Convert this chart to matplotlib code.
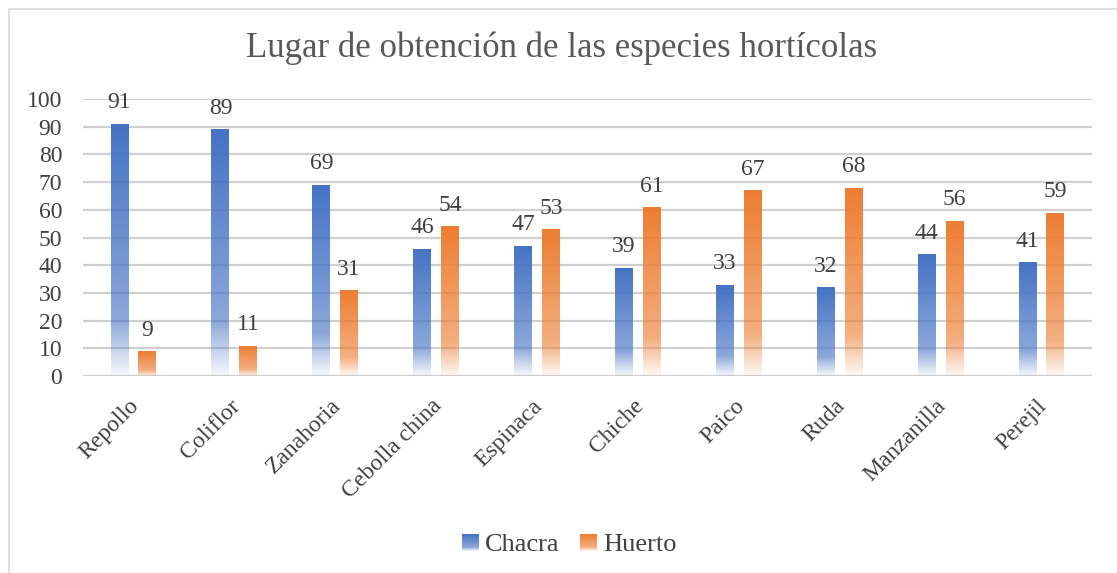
import numpy as np
import matplotlib
matplotlib.use("Agg")
import matplotlib.pyplot as plt
from matplotlib.colors import to_rgb
from matplotlib.patches import Rectangle
from matplotlib.legend_handler import HandlerBase
from matplotlib.transforms import ScaledTranslation

categories = ["Repollo", "Coliflor", "Zanahoria", "Cebolla china", "Espinaca",
              "Chiche", "Paico", "Ruda", "Manzanilla", "Perejil"]
chacra = [91, 89, 69, 46, 47, 39, 33, 32, 44, 41]
huerto = [9, 11, 31, 54, 53, 61, 67, 68, 56, 59]
series_names = ["Chacra", "Huerto"]
yticks = [0, 10, 20, 30, 40, 50, 60, 70, 80, 90, 100]

BLUE = "#4472C4"
ORANGE = "#ED7D31"
TXT = "#404040"
FONT = "Liberation Serif"

plt.rcParams["font.family"] = [FONT, "DejaVu Serif"]

fig = plt.figure(figsize=(11.17, 5.73), dpi=100)
ax = fig.add_axes([83/1117, 1 - 376/573, (1092-83)/1117, (376-99)/573])

def grad_image(color):
    r, g, b = to_rgb(color)
    t = np.linspace(0, 1, 256)
    alpha = np.interp(t, [0, 0.78, 0.9, 1.0], [1.0, 0.62, 0.3, 0.05])
    img = np.zeros((256, 1, 4))
    img[:, 0, 0] = r
    img[:, 0, 1] = g
    img[:, 0, 2] = b
    img[:, 0, 3] = alpha
    return img

x = np.arange(len(categories))
w = 0.178
off = 0.138
for vals, col, sgn in [(chacra, BLUE, -1), (huerto, ORANGE, 1)]:
    bars = ax.bar(x + sgn * off, vals, width=w, color="none", edgecolor="none", zorder=3)
    img = grad_image(col)
    for b, v in zip(bars, vals):
        x0 = b.get_x()
        im = ax.imshow(img, extent=[x0, x0 + b.get_width(), 0, b.get_height()],
                       aspect="auto", origin="upper", zorder=3, interpolation="bilinear")
        im.set_clip_path(b)
        ax.text(b.get_x() + b.get_width()/2, v + 3.8, f"{v}", ha="center", va="bottom",
                fontsize=17, color=TXT, zorder=5)

ax.set_xlim(-0.5, len(categories) - 0.5)
ax.set_ylim(0, 100)
ax.set_yticks(yticks)
ax.set_yticklabels([str(t) for t in yticks], fontsize=17, color=TXT)
ax.set_xticks(x)
ax.tick_params(axis="both", length=0)
ax.tick_params(axis="y", pad=15)
ax.tick_params(axis="x", pad=14)
ax.set_xticklabels(categories, rotation=45, ha="right", va="top", rotation_mode="anchor",
                   fontsize=17, color=TXT)
shift = ScaledTranslation(-5/100, 0, fig.dpi_scale_trans)
for lbl in ax.get_xticklabels():
    lbl.set_transform(lbl.get_transform() + shift)
for s in ax.spines.values():
    s.set_visible(False)
ax.yaxis.grid(True, color="#D0D0D0", linewidth=1.6, zorder=0)
ax.set_axisbelow(True)

fig.text(0.503, 1 - 48/573, "Lugar de obtención de las especies hortícolas",
         ha="center", va="center", fontsize=25, color="#595959")

class GradHandler(HandlerBase):
    def __init__(self, color):
        super().__init__()
        self.color = color
    def create_artists(self, legend, orig_handle, xdescent, ydescent, width, height, fontsize, trans):
        from matplotlib.image import BboxImage
        from matplotlib.transforms import Bbox, TransformedBbox
        s = height * 0.9
        x0 = -xdescent + width - s
        bb = Bbox.from_bounds(x0, -ydescent, s, s)
        tbb = TransformedBbox(bb, trans)
        bi = BboxImage(tbb, interpolation="bilinear")
        bi.set_data(grad_image(self.color))
        return [bi]

h1 = Rectangle((0, 0), 1, 1, color=BLUE)
h2 = Rectangle((0, 0), 1, 1, color=ORANGE)
leg = fig.legend([h1, h2], series_names, loc="center", bbox_to_anchor=(0.510, 1 - 544/573),
                 ncol=2, frameon=False, fontsize=19, handlelength=0.6, handleheight=0.7,
                 handletextpad=0.25, columnspacing=0.8,
                 handler_map={h1: GradHandler(BLUE), h2: GradHandler(ORANGE)})
for t in leg.get_texts():
    t.set_color(TXT)

fig.add_artist(Rectangle((9/1117, -0.1), 2, 1.1 - 9/573, transform=fig.transFigure,
                         fill=False, edgecolor="#D9D9D9", linewidth=1.2))

fig.savefig("out.png", dpi=100)
